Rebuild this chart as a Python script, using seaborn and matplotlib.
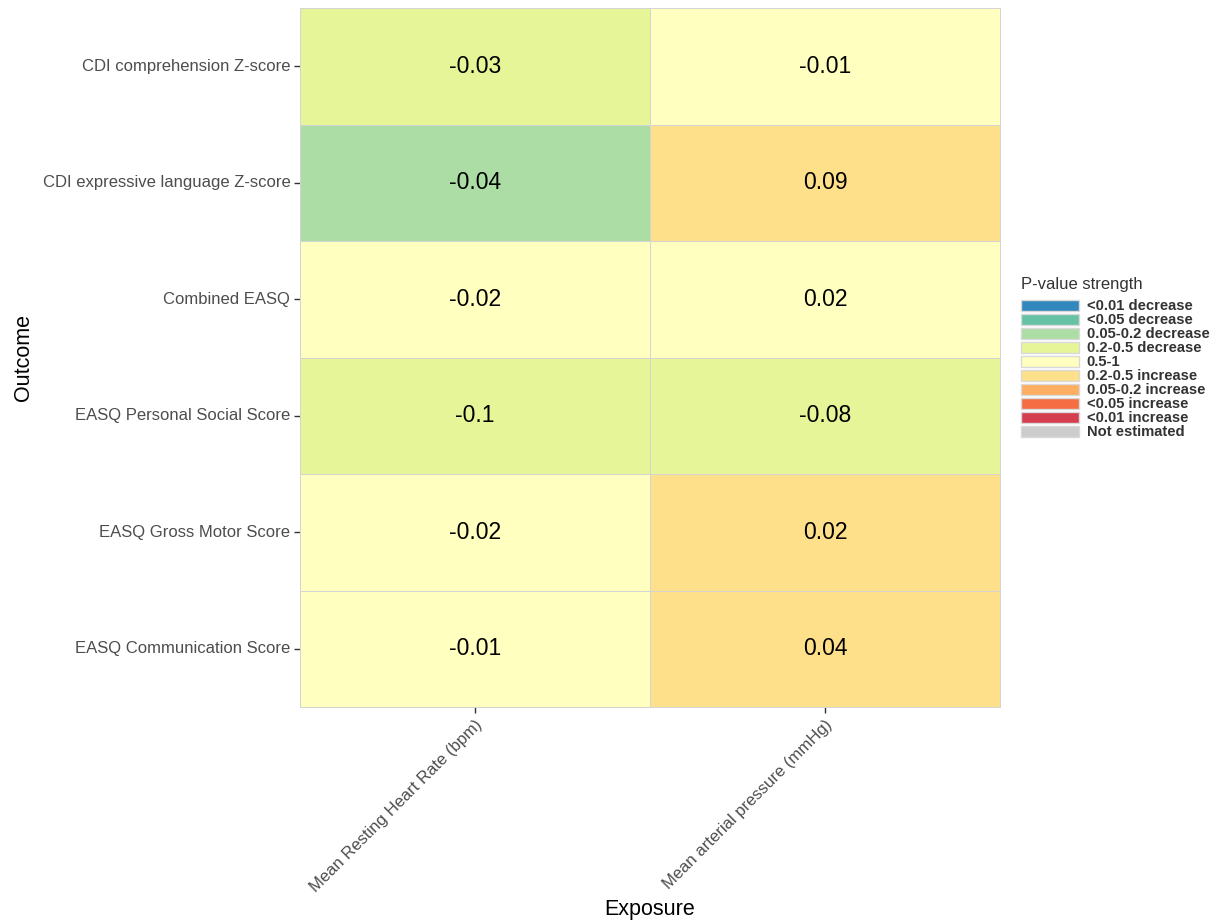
import numpy as np
import pandas as pd
import matplotlib
matplotlib.use("Agg")
import matplotlib.pyplot as plt
from matplotlib.colors import ListedColormap
from matplotlib.patches import Patch
import seaborn as sns

sns.set_theme(style="white")
plt.rcParams["font.family"] = ["Liberation Sans", "DejaVu Sans"]

outcomes = [
    "CDI comprehension Z-score",
    "CDI expressive language Z-score",
    "Combined EASQ",
    "EASQ Personal Social Score",
    "EASQ Gross Motor Score",
    "EASQ Communication Score",
]
exposures = ["Mean Resting Heart Rate (bpm)", "Mean arterial pressure (mmHg)"]

# point estimates per outcome (rows) and exposure (columns)
est_heart_rate = [-0.03, -0.04, -0.02, -0.1, -0.02, -0.01]
est_map = [-0.01, 0.09, 0.02, -0.08, 0.02, 0.04]

# p-value category per cell
cat_heart_rate = ["0.2-0.5 decrease", "0.05-0.2 decrease", "0.5-1",
                  "0.2-0.5 decrease", "0.5-1", "0.5-1"]
cat_map = ["0.5-1", "0.2-0.5 increase", "0.5-1",
           "0.2-0.5 decrease", "0.2-0.5 increase", "0.2-0.5 increase"]

levels = ["<0.01 decrease", "<0.05 decrease", "0.05-0.2 decrease",
          "0.2-0.5 decrease", "0.5-1", "0.2-0.5 increase",
          "0.05-0.2 increase", "<0.05 increase", "<0.01 increase",
          "Not estimated"]
level_colors = ["#3288bd", "#66c2a5", "#abdda4", "#e6f598", "#ffffbf",
                "#fee08b", "#fdae61", "#f46d43", "#d53e4f", "#cccccc"]

codes = pd.DataFrame(
    {exposures[0]: [levels.index(c) for c in cat_heart_rate],
     exposures[1]: [levels.index(c) for c in cat_map]},
    index=outcomes,
)
labels = pd.DataFrame(
    {exposures[0]: [f"{v:g}" for v in est_heart_rate],
     exposures[1]: [f"{v:g}" for v in est_map]},
    index=outcomes,
)

fig = plt.figure(figsize=(12.17, 9.23), dpi=100)
ax = fig.add_axes([0.2465, 0.234, 0.5752, 0.7573])

sns.heatmap(
    codes, ax=ax, cmap=ListedColormap(level_colors),
    vmin=-0.5, vmax=len(levels) - 0.5, cbar=False,
    annot=labels, fmt="", annot_kws={"fontsize": 16.5, "color": "black"},
    linewidths=0.7, linecolor="#d4d4d4",
)

for side in ["top", "bottom", "left", "right"]:
    ax.spines[side].set_visible(True)
    ax.spines[side].set_color("#d4d4d4")
    ax.spines[side].set_linewidth(0.7)

ax.tick_params(axis="both", which="both", length=4, width=1,
               color="#333333", labelcolor="#4d4d4d", labelsize=12,
               left=True, bottom=True, pad=3)
ax.set_yticklabels(outcomes, rotation=0)
ax.set_xticklabels(exposures, rotation=45, ha="right", rotation_mode="anchor")

ax.set_xlabel("Exposure", fontsize=15.5, color="black", labelpad=3)
ax.set_ylabel("Outcome", fontsize=15.5, color="black", labelpad=6)

handles = [Patch(facecolor=c, edgecolor="#d9d9d9", linewidth=1.0)
           for c in level_colors]
leg = fig.legend(
    handles, levels, title="P-value strength",
    loc="upper left", bbox_to_anchor=(0.8337, 0.706),
    frameon=False, title_fontsize=12,
    handlelength=3.95, handleheight=0.78, labelspacing=0.0,
    handletextpad=0.55, borderaxespad=0.0, alignment="left",
    prop={"weight": "bold", "size": 10.6},
)
# a little space between the legend title and the keys
leg._legend_box.sep = 5
for t in leg.get_texts():
    t.set_color("#333333")
leg.get_title().set_color("#333333")

fig.savefig("out.png", dpi=100, facecolor="white")
